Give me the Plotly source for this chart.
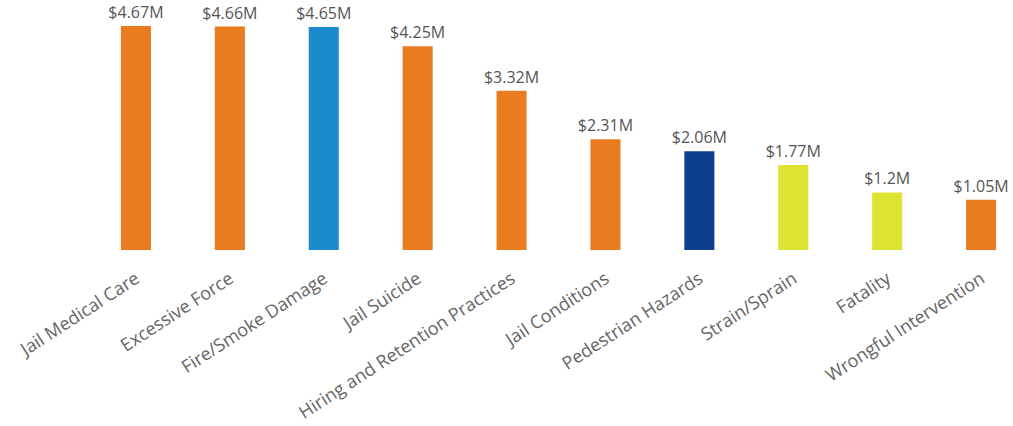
import plotly.graph_objects as go

categories = ["Jail Medical Care", "Excessive Force", "Fire/Smoke Damage", "Jail Suicide",
              "Hiring and Retention Practices", "Jail Conditions", "Pedestrian Hazards",
              "Strain/Sprain", "Fatality", "Wrongful Intervention"]
values = [4.67, 4.66, 4.65, 4.25, 3.32, 2.31, 2.06, 1.77, 1.2, 1.05]
labels = ["$4.67M", "$4.66M", "$4.65M", "$4.25M", "$3.32M", "$2.31M", "$2.06M", "$1.77M", "$1.2M", "$1.05M"]
colors = ["#E97C1F", "#E97C1F", "#1C8BCD", "#E97C1F", "#E97C1F", "#E97C1F",
          "#0E3F8E", "#DCE431", "#DCE431", "#E97C1F"]

fig = go.Figure(go.Bar(
    x=categories, y=values, marker=dict(color=colors, line=dict(width=0)),
    width=0.32, text=labels, textposition="outside", cliponaxis=False,
    constraintext="none",
    textfont=dict(family="Open Sans", size=16, color="#555555"),
))
fig.update_layout(
    width=1013, height=426, margin=dict(l=89, r=0, t=15, b=176),
    paper_bgcolor="white", plot_bgcolor="white", showlegend=False,
    xaxis=dict(range=[-0.5, 9.34], tickangle=-33, showgrid=False, showline=False, ticks="",
               ticklabelstandoff=14,
               tickfont=dict(family="Open Sans", size=18, color="#666666")),
    yaxis=dict(range=[0, 4.9], visible=False, showgrid=False),
)
fig.write_html("out.html")
